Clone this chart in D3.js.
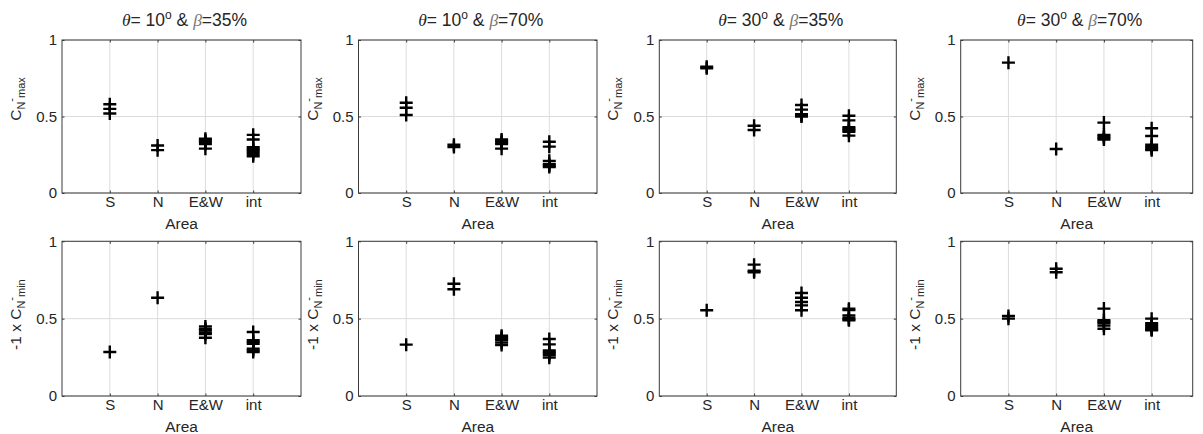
<!DOCTYPE html>
<html><head><meta charset="utf-8">
<script src="https://cdn.jsdelivr.net/npm/d3@7"></script>
<style>
body{margin:0;background:#fff}
svg text{font-family:"Liberation Sans",Arial,sans-serif;fill:#262626}
</style>
</head><body>
<svg id="chart" width="1203" height="434"></svg>
<script>
// ---------- data ----------
const categories = ["S", "N", "E&W", "int"];
const thetaDeg = [10, 10, 30, 30];
const betaPct = [35, 70, 35, 70];
const yTickValues = [0, 0.5, 1];
const yTickLabels = ["0", "0.5", "1"];
const xAxisLabel = "Area";

// top row: C_N^- max   (per category: S, N, E&W, int)
const cnMax_t10_b35 = [[0.58, 0.55, 0.52], [0.31, 0.28], [0.355, 0.345, 0.335, 0.32, 0.29], [0.38, 0.35, 0.30, 0.29, 0.28, 0.27, 0.255, 0.24]];
const cnMax_t10_b70 = [[0.59, 0.557, 0.51], [0.315, 0.30], [0.35, 0.34, 0.33, 0.32, 0.29], [0.335, 0.303, 0.21, 0.19, 0.18, 0.17]];
const cnMax_t30_b35 = [[0.825, 0.815], [0.44, 0.412], [0.575, 0.545, 0.515, 0.505, 0.50], [0.505, 0.475, 0.43, 0.42, 0.41, 0.40, 0.375]];
const cnMax_t30_b70 = [[0.852], [0.288], [0.46, 0.38, 0.37, 0.36, 0.35], [0.423, 0.373, 0.315, 0.30, 0.29, 0.28]];

// bottom row: -1 x C_N^- min
const cnMin_t10_b35 = [[0.284], [0.635], [0.45, 0.435, 0.425, 0.41, 0.40, 0.377], [0.414, 0.36, 0.35, 0.338, 0.306, 0.295, 0.284]];
const cnMin_t10_b70 = [[0.332], [0.726, 0.69], [0.39, 0.38, 0.37, 0.36, 0.345, 0.33], [0.368, 0.334, 0.295, 0.285, 0.275, 0.263, 0.248]];
const cnMin_t30_b35 = [[0.554], [0.849, 0.81, 0.80], [0.666, 0.635, 0.608, 0.586, 0.554], [0.564, 0.555, 0.52, 0.505, 0.495, 0.49]];
const cnMin_t30_b70 = [[0.517, 0.50], [0.823, 0.80], [0.565, 0.49, 0.48, 0.47, 0.455, 0.435], [0.50, 0.47, 0.46, 0.45, 0.44, 0.43, 0.425]];

const rowsData = [
  [cnMax_t10_b35, cnMax_t10_b70, cnMax_t30_b35, cnMax_t30_b70],
  [cnMin_t10_b35, cnMin_t10_b70, cnMin_t30_b35, cnMin_t30_b70]
];

// ---------- layout ----------
const panelLeft = [62, 358.5, 659.3, 960.7];
const panelWidth = [239, 238.5, 237, 232];
const panelXMax = [5, 5, 5, 4.86];
const rowTop = [40, 241.3];
const rowBottom = [193, 396];
const yLabelCenter = [99, 314.6];
const tickFont = 15, labelFont = 15.5, titleFont = 17.5;
const boxColor = "#3a3a3a", gridColor = "#dcdcdc";

const svg = d3.select("#chart");

rowsData.forEach((panels, r) => {
  panels.forEach((vals, p) => {
    const L = panelLeft[p], W = panelWidth[p];
    const x = d3.scaleLinear().domain([0, panelXMax[p]]).range([L, L + W]);
    const y = d3.scaleLinear().domain([0, 1]).range([rowBottom[r], rowTop[r]]);
    const g = svg.append("g");
    const catPos = categories.map((c, i) => i + 1);

    // grid
    g.selectAll(".vg").data(catPos).join("line")
      .attr("x1", d => x(d)).attr("x2", d => x(d))
      .attr("y1", y(0)).attr("y2", y(1))
      .attr("stroke", gridColor).attr("stroke-width", 1);
    g.selectAll(".hg").data(yTickValues).join("line")
      .attr("x1", x(0)).attr("x2", x(panelXMax[p]))
      .attr("y1", d => y(d)).attr("y2", d => y(d))
      .attr("stroke", gridColor).attr("stroke-width", 1);

    // axes (ticks inward)
    const ax = [
      g.append("g").attr("transform", `translate(${x(0)},0)`)
        .call(d3.axisLeft(y).tickValues(yTickValues).tickSize(-2.5).tickPadding(5)
          .tickFormat((d, i) => yTickLabels[i])),
      g.append("g").attr("transform", `translate(${x(panelXMax[p])},0)`)
        .call(d3.axisRight(y).tickValues(yTickValues).tickSize(-2.5).tickFormat("")),
      g.append("g").attr("transform", `translate(0,${y(0)})`)
        .call(d3.axisBottom(x).tickValues(catPos).tickSize(-2.5).tickPadding(3.6)
          .tickFormat(d => categories[d - 1])),
      g.append("g").attr("transform", `translate(0,${y(1)})`)
        .call(d3.axisTop(x).tickValues(catPos).tickSize(-2.5).tickFormat(""))
    ];
    ax.forEach(a => {
      a.select(".domain").remove();
      a.selectAll(".tick line").attr("stroke", boxColor);
      a.selectAll("text").attr("font-size", tickFont).attr("font-family", null).style("fill", "#262626");
    });

    // box
    g.append("rect").attr("x", x(0)).attr("y", y(1))
      .attr("width", x(panelXMax[p]) - x(0)).attr("height", y(0) - y(1))
      .attr("fill", "none").attr("stroke", boxColor).attr("stroke-width", 1);

    // markers '+'
    const pts = [];
    vals.forEach((arr, i) => arr.forEach(v => pts.push({c: i + 1, v})));
    g.selectAll(".pt").data(pts).join("path")
      .attr("d", d => `M${x(d.c) - 6.5},${y(d.v)}h13M${x(d.c)},${y(d.v) - 6.5}v13`)
      .attr("stroke", "#000").attr("stroke-width", 2.4).attr("fill", "none");

    // x label
    g.append("text").attr("x", L + W / 2).attr("y", rowBottom[r] + 35.5)
      .attr("text-anchor", "middle").attr("font-size", labelFont).text(xAxisLabel);

    // y label
    const yl = g.append("text")
      .attr("transform", `translate(${L - 41},${yLabelCenter[r]}) rotate(-90)`)
      .attr("text-anchor", "middle").attr("font-size", labelFont);
    yl.append("tspan").text(r === 0 ? "C" : "-1 x C");
    yl.append("tspan").attr("font-size", 11).attr("dy", 4).text("N");
    yl.append("tspan").attr("font-size", 11).attr("dy", -10).text("-");
    yl.append("tspan").attr("font-size", 11).attr("dy", 10).text(r === 0 ? "max" : "min");

    // title (top row only)
    if (r === 0) {
      const t = g.append("text").attr("x", L + W / 2 + 3).attr("y", 26)
        .attr("text-anchor", "middle").attr("font-size", titleFont);
      t.append("tspan").attr("font-style", "italic").attr("font-family", "Liberation Serif").text("θ");
      t.append("tspan").text("= " + thetaDeg[p]);
      t.append("tspan").attr("font-size", 12).attr("dy", -7).text("o");
      t.append("tspan").attr("dy", 7).text(" & ");
      t.append("tspan").attr("font-style", "italic").attr("font-family", "Liberation Serif").style("fill", "#777").text("β");
      t.append("tspan").text("=" + betaPct[p] + "%");
    }
  });
});
</script>
</body></html>
